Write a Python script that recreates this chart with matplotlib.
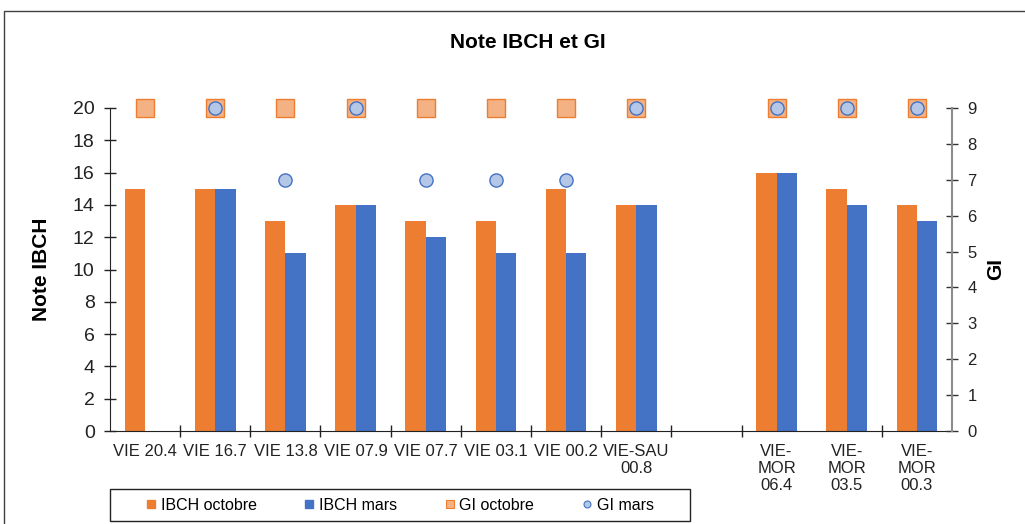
import numpy as np
import matplotlib
matplotlib.use("Agg")
import matplotlib.pyplot as plt
from matplotlib.lines import Line2D
from matplotlib.patches import Rectangle

plt.rcParams['font.family'] = ['Liberation Sans', 'DejaVu Sans']

categories = ["VIE 20.4", "VIE 16.7", "VIE 13.8", "VIE 07.9", "VIE 07.7", "VIE 03.1",
              "VIE 00.2", "VIE-SAU\n00.8", "", "VIE-\nMOR\n06.4", "VIE-\nMOR\n03.5", "VIE-\nMOR\n00.3"]
ibch_octobre = [15, 15, 13, 14, 13, 13, 15, 14, np.nan, 16, 15, 14]
ibch_mars = [np.nan, 15, 11, 14, 12, 11, 11, 14, np.nan, 16, 14, 13]
gi_octobre = [9, 9, 9, 9, 9, 9, 9, 9, np.nan, 9, 9, 9]
gi_mars = [np.nan, 9, 7, 9, 7, 7, 7, 9, np.nan, 9, 9, 9]

ORANGE = "#ED7D31"
BLUE = "#4472C4"
SQ_FACE = "#F4B183"
CI_FACE = "#B4C7E7"

fig = plt.figure(figsize=(10.25, 5.24), dpi=100)
ax = fig.add_axes([110/1025, 1-431/524, (952-110)/1025, (431-108)/524])
ax2 = ax.twinx()

x = np.arange(len(categories))
w = 0.29
ax.bar(x - w/2, ibch_octobre, width=w, color=ORANGE, label="IBCH octobre")
ax.bar(x + w/2, ibch_mars, width=w, color=BLUE, label="IBCH mars")

ax2.plot(x, gi_octobre, linestyle="none", marker="s", markersize=13,
         markerfacecolor=SQ_FACE, markeredgecolor=ORANGE, markeredgewidth=1.0, clip_on=False)
ax2.plot(x, gi_mars, linestyle="none", marker="o", markersize=9.5,
         markerfacecolor=CI_FACE, markeredgecolor=BLUE, markeredgewidth=1.0, clip_on=False)

ax.set_xlim(-0.5, len(categories) - 0.5)
ax.set_ylim(0, 20)
ax2.set_ylim(0, 9)

ax.set_yticks(np.arange(0, 21, 2))
ax2.set_yticks(np.arange(0, 10, 1))

ax.set_xticks(x)
ax.set_xticklabels(categories, fontsize=12, linespacing=1.2, color="#222222")
ax.tick_params(axis="x", which="major", length=0, pad=9)
bounds = [b + 0.5 for b in range(len(categories) - 1) if b != 9]
ax.set_xticks(bounds, minor=True)
ax.tick_params(axis="x", which="minor", direction="inout", length=8, width=1, color="#222222")

ax.tick_params(axis="y", direction="inout", length=8, width=1, labelsize=14, pad=7,
               color="#222222", labelcolor="#222222")
ax2.tick_params(axis="y", direction="inout", length=8, width=1, labelsize=12, pad=7,
                color="#333333", labelcolor="#222222")

for s in ["top"]:
    ax.spines[s].set_visible(False)
    ax2.spines[s].set_visible(False)
ax.spines["right"].set_visible(False)
ax2.spines["left"].set_visible(False)
ax2.spines["bottom"].set_visible(False)
ax.spines["left"].set_color("#222222")
ax.spines["bottom"].set_color("#222222")
ax2.spines["right"].set_color("#8c8c8c")
ax2.spines["right"].set_linewidth(1.5)

ax.set_ylabel("Note IBCH", fontsize=15, fontweight="bold")
ax.yaxis.set_label_coords(-0.070, 0.5)
ax2.set_ylabel("GI", fontsize=15, fontweight="bold")
ax2.yaxis.set_label_coords(1.040, 0.5)

fig.text(528/1025, 1-43/524, "Note IBCH et GI", fontsize=15, fontweight="bold",
         ha="center", va="center")

# outer frame
fig.patches.append(Rectangle((4/1025, -0.2), 2, 1.2 - 11/524, transform=fig.transFigure,
                             fill=False, edgecolor="#404040", linewidth=1.0))

# legend
fig.patches.append(Rectangle((110/1025, 1-521/524), (690-110)/1025, (521-489)/524,
                             transform=fig.transFigure, fill=False, edgecolor="#222222",
                             linewidth=1.0))
handles = [
    Line2D([], [], linestyle="none", marker="s", markersize=6, markerfacecolor=ORANGE, markeredgecolor=ORANGE),
    Line2D([], [], linestyle="none", marker="s", markersize=6, markerfacecolor=BLUE, markeredgecolor=BLUE),
    Line2D([], [], linestyle="none", marker="s", markersize=6, markerfacecolor=SQ_FACE, markeredgecolor=ORANGE, markeredgewidth=0.8),
    Line2D([], [], linestyle="none", marker="o", markersize=5, markerfacecolor=CI_FACE, markeredgecolor=BLUE, markeredgewidth=0.8),
]
labels = ["IBCH octobre", "IBCH mars", "GI octobre", "GI mars"]
fig.legend(handles, labels, loc="center", bbox_to_anchor=(400/1025, 1-505/524), ncol=4,
           frameon=False, fontsize=11.5, handlelength=0.6, handletextpad=0.3, columnspacing=3.0)

fig.savefig("out.png", dpi=100)
